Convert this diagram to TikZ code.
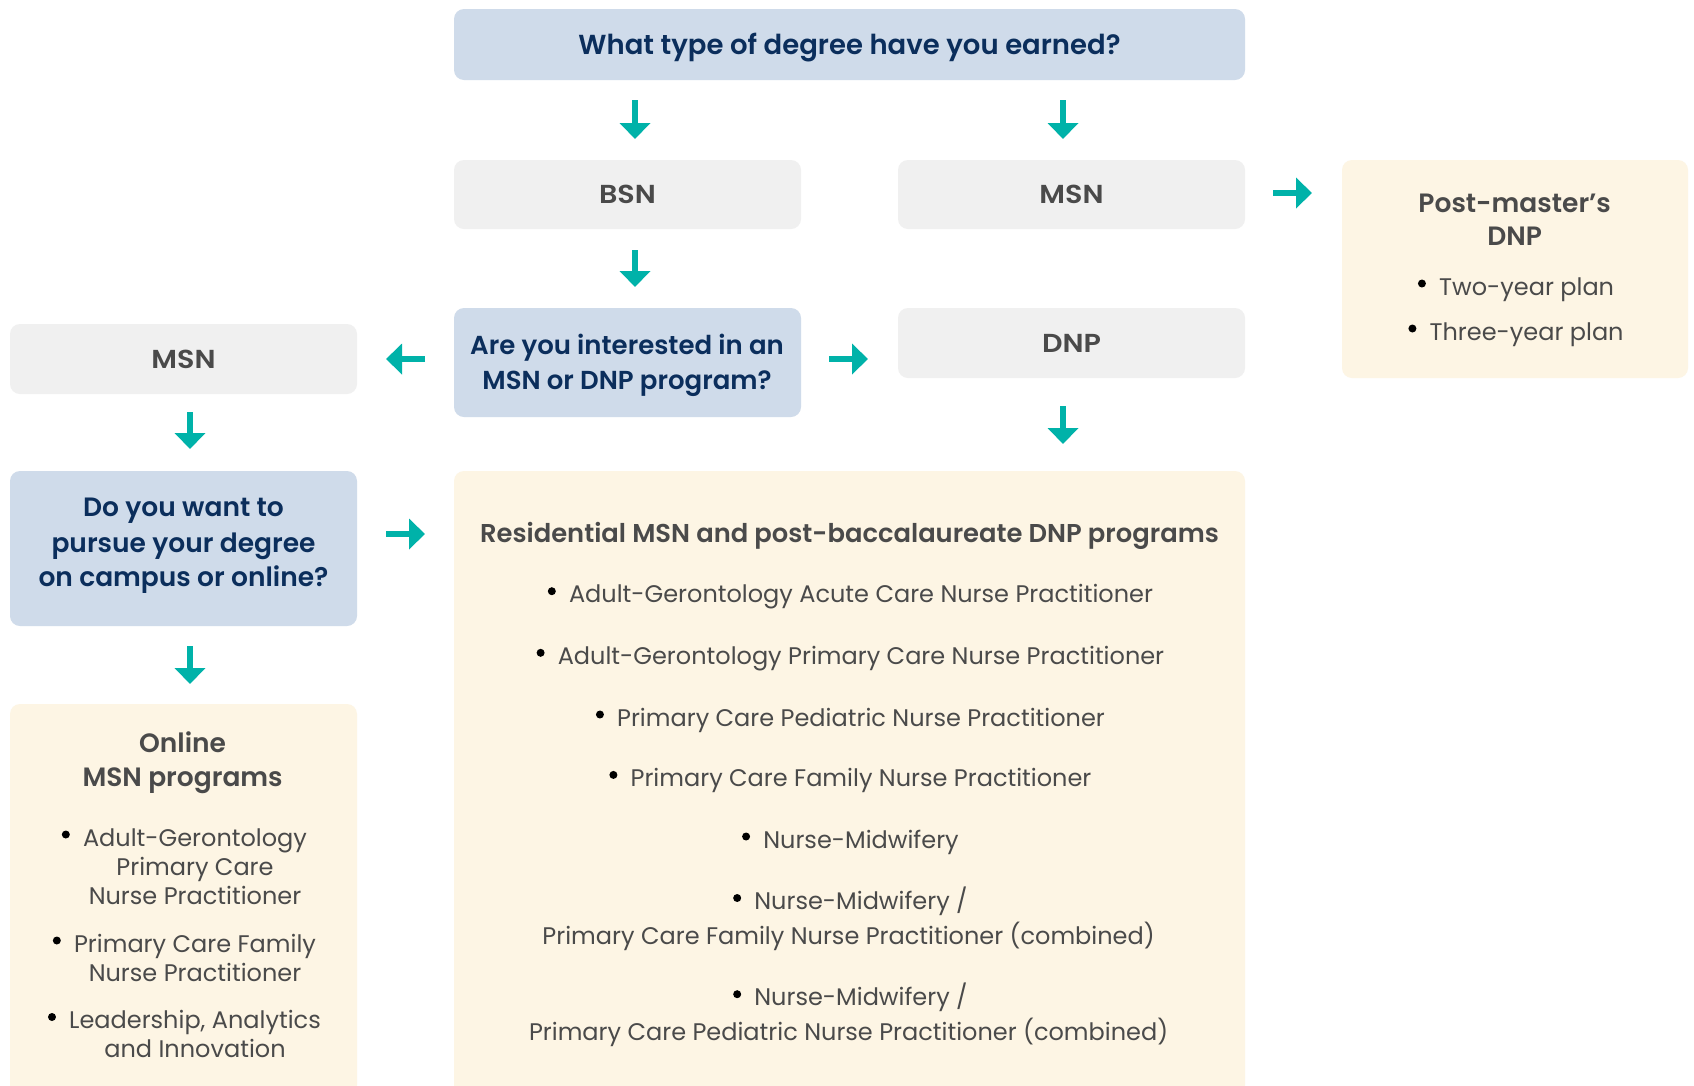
\documentclass[tikz,border=0pt]{standalone}
\usepackage{fontspec}
\setmainfont{Poppins}[BoldFont={Poppins SemiBold}]
\newfontfamily\widebold{Poppins SemiBold}[FakeStretch=1.1]
\usetikzlibrary{arrows.meta,calc}
\definecolor{navy}{HTML}{0B2E5C}
\definecolor{qblue}{HTML}{CFDBEA}
\definecolor{boxgrey}{HTML}{F0F0F0}
\definecolor{cream}{HTML}{FDF5E4}
\definecolor{txtgrey}{HTML}{4A4A4A}
\definecolor{arrowteal}{HTML}{00B2A9}
\begin{document}
\begin{tikzpicture}[x=1pt,y=-1pt,
  box/.style={rectangle, rounded corners=10pt, inner sep=0pt, outer sep=0pt},
  qbox/.style={box, fill=qblue},
  gbox/.style={box, fill=boxgrey, text=txtgrey, font=\widebold\fontsize{26}{30}\selectfont, text height=18pt, text depth=0pt},
  cbox/.style={box, fill=cream},
  qtxt/.style={text=navy, font=\bfseries\fontsize{26.5}{30}\selectfont, inner sep=0pt, anchor=base},
  htxt/.style={text=txtgrey, font=\bfseries\fontsize{26.5}{30}\selectfont, inner sep=0pt, anchor=base},
  btxt/.style={text=txtgrey, font=\fontsize{24}{30}\selectfont, inner sep=0pt, anchor=base},
  bul/.style={circle, fill=black, inner sep=0pt, minimum size=8pt},
  arr/.style={draw=arrowteal, line width=5.5pt, -{Triangle[length=16pt,width=30pt]}}
]
\useasboundingbox[fill=white] (0,0) rectangle (1694,1085);

% boxes
\node[qbox, text=navy, font=\bfseries\fontsize{27.5}{30}\selectfont, text height=19pt, text depth=0pt,
      minimum width=791, minimum height=71] (top) at (849.5,44.5) {What type of degree have you earned?};
\node[gbox, minimum width=347, minimum height=69] (bsn) at (627.5,194.5) {BSN};
\node[gbox, minimum width=347, minimum height=69] (msnR) at (1071.5,194.5) {MSN};
\node[cbox, minimum width=346, minimum height=218] (post) at (1515,269) {};
\node[gbox, minimum width=347, minimum height=70] (msnL) at (183.5,359) {MSN};
\node[qbox, minimum width=347, minimum height=109] (q2) at (627.5,362.5) {};
\node[gbox, minimum width=347, minimum height=70] (dnp) at (1071.5,343) {DNP};
\node[qbox, minimum width=347, minimum height=155] (q3) at (183.5,548.5) {};
\node[cbox, minimum width=347, minimum height=396] (online) at (183.5,902) {};
\node[cbox, minimum width=791, minimum height=629] (resid) at (849.5,785.5) {};

% question texts
\node[qtxt, font=\bfseries\fontsize{26}{30}\selectfont] (q2a) at (627,354.5) {Are you interested in an};
\node[qtxt, font=\bfseries\fontsize{26}{30}\selectfont] (q2b) at (627,389) {MSN or DNP program?};
\node[qtxt] (q3a) at (183.5,516.5) {Do you want to};
\node[qtxt] (q3b) at (183.5,552) {pursue your degree};
\node[qtxt] (q3c) at (183.5,586.7) {on campus or online?};

% post-master's
\node[htxt] (pt1) at (1514.7,212) {Post-master’s};
\node[htxt] (pt2) at (1514.7,245.5) {DNP};
\node[btxt] (p1) at (1526.6,295) {Two-year plan};
\node[btxt] (p2) at (1526.6,340) {Three-year plan};
\node[bul] (p1b) at ($(p1.base west)+(-17,-11.5)$) {};
\node[bul] (p2b) at ($(p2.base west)+(-17,-11.5)$) {};

% residential
\node[htxt, font=\bfseries\fontsize{25.8}{30}\selectfont] (rt) at (849.5,542) {Residential MSN and post-baccalaureate DNP programs};
\node[btxt] (r1) at (861,602.7) {Adult-Gerontology Acute Care Nurse Practitioner};
\node[btxt] (r2) at (861,664.3) {Adult-Gerontology Primary Care Nurse Practitioner};
\node[btxt] (r3) at (861,726) {Primary Care Pediatric Nurse Practitioner};
\node[btxt] (r4) at (861,786.4) {Primary Care Family Nurse Practitioner};
\node[btxt] (r5) at (861,848) {Nurse-Midwifery};
\node[btxt] (r6) at (861,909.5) {Nurse-Midwifery /};
\node[btxt] (r6b) at (848.6,944.1) {Primary Care Family Nurse Practitioner (combined)};
\node[btxt] (r7) at (861,1005.7) {Nurse-Midwifery /};
\node[btxt] (r7b) at (848.6,1040.3) {Primary Care Pediatric Nurse Practitioner (combined)};
\foreach \n in {r1,r2,r3,r4,r5,r6,r7}
  \node[bul] (\n bul) at ($(\n.base west)+(-17,-11.5)$) {};

% online
\node[htxt] (ot1) at (182.6,752) {Online};
\node[htxt] (ot2) at (182.6,786.5) {MSN programs};
\node[btxt] (o1) at (195,846) {Adult-Gerontology};
\node[btxt] (o1b) at (195,875) {Primary Care};
\node[btxt] (o1c) at (195,904) {Nurse Practitioner};
\node[btxt] (o2) at (195,952) {Primary Care Family};
\node[btxt] (o2b) at (195,981) {Nurse Practitioner};
\node[btxt] (o3) at (195,1028.5) {Leadership, Analytics};
\node[btxt] (o3b) at (195,1057.6) {and Innovation};
\foreach \n in {o1,o2,o3}
  \node[bul] (\n bul) at ($(\n.base west)+(-17,-11.5)$) {};

% arrows
\draw[arr, shorten <=20pt, shorten >=21pt] ($(top.south -| bsn.north)+(7.5,0)$) -- ($(bsn.north)+(7.5,0)$);
\draw[arr, shorten <=20pt, shorten >=21pt] ($(top.south -| msnR.north)+(-8.5,0)$) -- ($(msnR.north)+(-8.5,0)$);
\draw[arr, shorten <=21pt, shorten >=21pt] ($(bsn.south)+(7.5,0)$) -- ($(q2.north)+(7.5,0)$);
\draw[arr, shorten <=28pt, shorten >=30pt] ($(msnR.east)+(0,-1.5)$) -- ($(msnR.east -| post.west)+(0,-1.5)$);
\draw[arr, shorten <=29pt, shorten >=29pt] ($(q2.west)+(0,-3.5)$) -- ($(q2.west -| msnL.east)+(0,-3.5)$);
\draw[arr, shorten <=28pt, shorten >=30pt] ($(q2.east)+(0,-3.5)$) -- ($(q2.east -| dnp.west)+(0,-3.5)$);
\draw[arr, shorten <=28pt, shorten >=27pt] ($(dnp.south)+(-8.5,0)$) -- ($(dnp.south |- resid.north)+(-8.5,0)$);
\draw[arr, shorten <=18pt, shorten >=22pt] ($(msnL.south)+(6.5,0)$) -- ($(q3.north)+(6.5,0)$);
\draw[arr, shorten <=29pt, shorten >=29pt] ($(q3.east)+(0,-14.5)$) -- ($(q3.east -| resid.west)+(0,-14.5)$);
\draw[arr, shorten <=20pt, shorten >=20pt] ($(q3.south)+(6.5,0)$) -- ($(online.north)+(6.5,0)$);
\end{tikzpicture}
\end{document}
